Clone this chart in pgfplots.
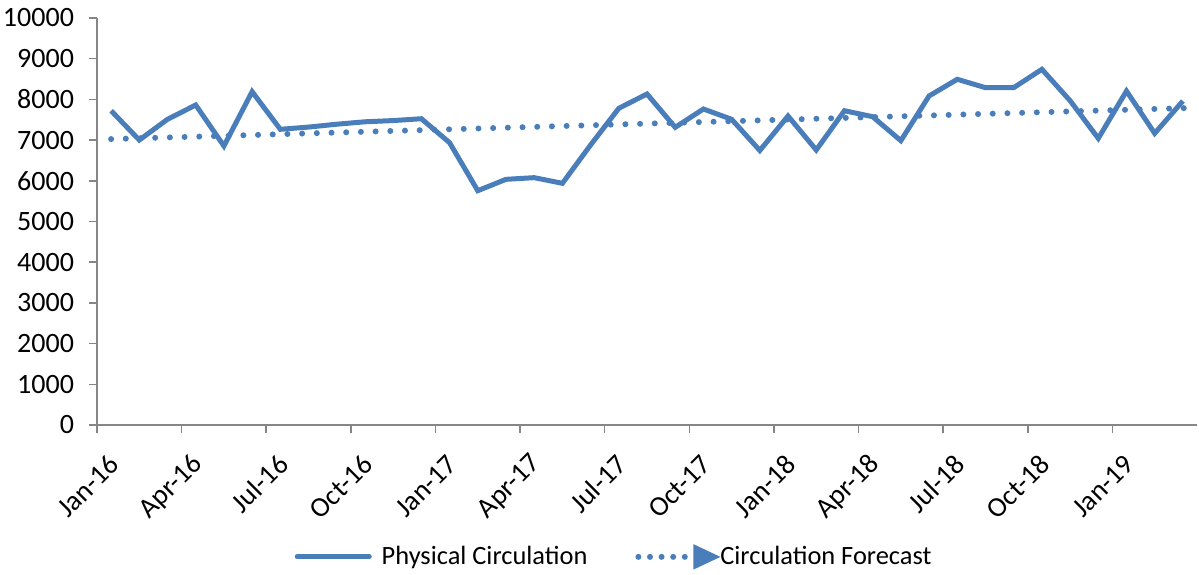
\documentclass[border=0pt]{standalone}
\usepackage{pgfplots}
\pgfplotsset{compat=1.18}
\usepackage{fontspec}
\setmainfont{Carlito}[Numbers={Monospaced,Lining}]
\usetikzlibrary{arrows.meta}
\definecolor{exblue}{RGB}{74,126,187}
\definecolor{axgray}{RGB}{134,134,134}
\newcommand\tl{\fontsize{14bp}{16bp}\selectfont}
\begin{document}
\begin{tikzpicture}
\begin{axis}[
  at={(0,0)}, anchor=south west,
  scale only axis, width=550bp, height=203.5bp,
  xmin=0, xmax=39, ymin=0, ymax=10000,
  axis lines*=left,
  axis line style={draw=axgray, line width=0.75bp},
  tick align=outside, major tick length=4bp,
  tick style={draw=axgray, line width=0.75bp},
  xtick={0,3,...,36},
  xticklabels={\tl Jan-16,\tl Apr-16,\tl Jul-16,\tl Oct-16,\tl Jan-17,\tl Apr-17,\tl Jul-17,\tl Oct-17,\tl Jan-18,\tl Apr-18,\tl Jul-18,\tl Oct-18,\tl Jan-19},
  ytick={0,1000,...,10000},
  yticklabel={\tl\pgfmathprintnumber[1000 sep={},assume math mode=true]{\tick}},
  scaled y ticks=false,
  tick label style={text=black},
  xticklabel style={xshift=11bp, yshift=-11bp, rotate=45, anchor=east},
  yticklabel style={xshift=-4bp},
  clip=false,
  legend columns=2,
  legend style={at={(0.471,-0.324)}, anchor=center, draw=none, fill=none,
    font=\fontsize{13.2bp}{15bp}\selectfont,
    /tikz/every even column/.append style={column sep=22bp}},
]
\addplot[exblue, line width=2.5bp, line join=miter,
  legend image code/.code={\draw[exblue, solid, line width=2.5bp, line cap=round] (0bp,0bp) -- (36bp,0bp); \path (39bp,0bp);}]
coordinates {
(0.5,7722) (1.5,7002) (2.5,7511) (3.5,7862) (4.5,6855) (5.5,8190)
(6.5,7265) (7.5,7320) (8.5,7390) (9.5,7450) (10.5,7480) (11.5,7525)
(12.5,6937) (13.5,5757) (14.5,6036) (15.5,6077) (16.5,5938) (17.5,6880)
(18.5,7781) (19.5,8133) (20.5,7314) (21.5,7764) (22.5,7511) (23.5,6745)
(24.5,7592) (25.5,6757) (26.5,7722) (27.5,7575) (28.5,6986) (29.5,8084)
(30.5,8494) (31.5,8288) (32.5,8288) (33.5,8739) (34.5,7969) (35.5,7043)
(36.5,8206) (37.5,7166) (38.5,7961)
};
\addlegendentry{Physical Circulation}
\addplot[exblue, line width=3bp, line cap=round, dash pattern=on 0pt off 7.35bp,
  legend image code/.code={
    \draw[exblue, line width=3bp, line cap=round, dash pattern=on 0pt off 5.8bp] (1.5bp,0bp) -- (30bp,0bp);
    \fill[exblue, solid] (30.5bp,4bp) -- (39bp,0bp) -- (30.5bp,-4bp) -- cycle;}]
coordinates {(0.5,7025) (39,7795)};
\addlegendentry{Circulation Forecast}
\end{axis}
\pgfresetboundingbox
\path[use as bounding box] (-48.5bp,-75bp) rectangle (551bp,212.5bp);
\end{tikzpicture}
\end{document}
